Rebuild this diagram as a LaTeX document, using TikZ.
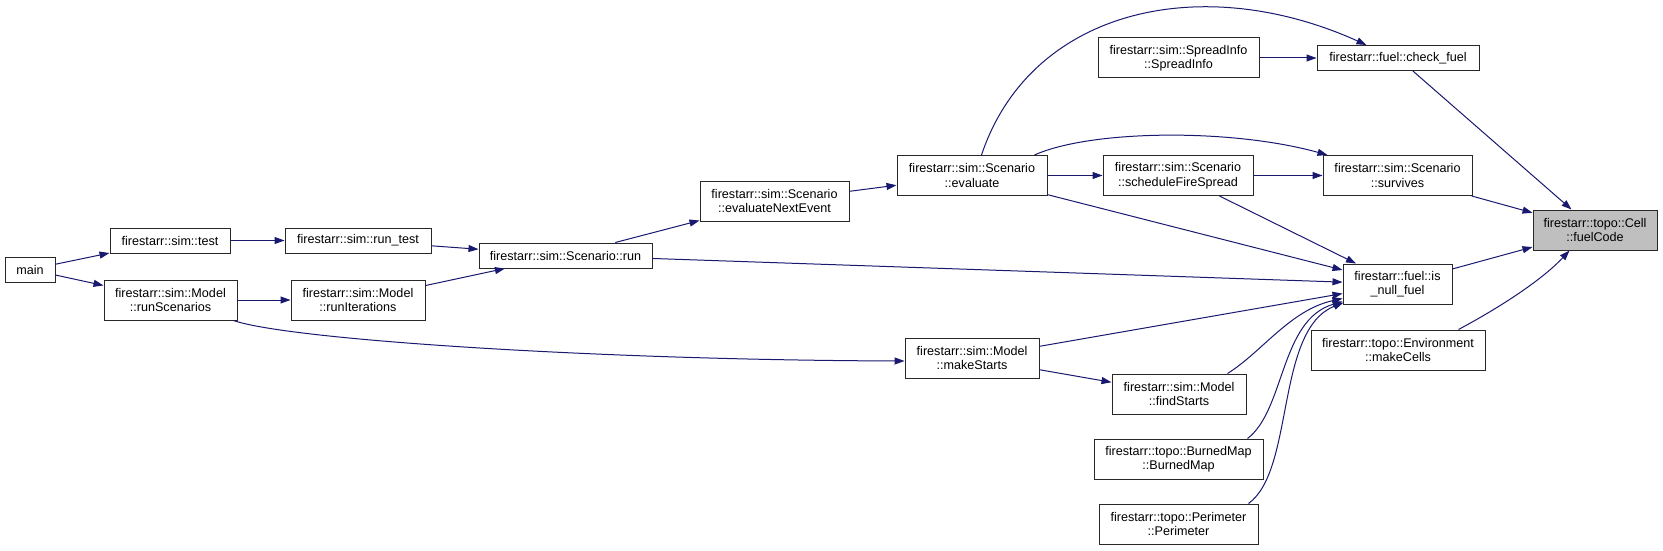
\documentclass[tikz,border=0pt]{standalone}
\usepackage{fontspec}
\setmainfont{Liberation Sans}
\usetikzlibrary{arrows.meta,calc}
\definecolor{edgeblue}{RGB}{25,25,112}
\definecolor{boxborder}{RGB}{40,40,40}
\definecolor{rootfill}{RGB}{191,191,191}
\begin{document}
\begin{tikzpicture}[x=1pt,y=-1pt,
  font=\fontsize{12.6}{14.5}\selectfont,
  box/.style={draw=boxborder, line width=1pt, fill=white, inner sep=0pt, align=center, minimum height=25pt},
  twoline/.style={minimum height=40pt},
  root/.style={fill=rootfill},
  edge/.style={draw=edgeblue, line width=1pt, -{Triangle[length=10pt,width=7pt]}}]
\fill[white] (0,0) rectangle (1663,551);
\useasboundingbox (0,0) rectangle (1663,551);

% nodes
\node[box, minimum width=50pt] (main) at (30,269.5) {main};
\node[box, minimum width=120pt] (test) at (170,240.5) {firestarr::sim::test};
\node[box, minimum width=146pt] (runtest) at (358,240.5) {firestarr::sim::run\_test};
\node[box, twoline, minimum width=133pt] (runScenarios) at (170.5,300) {firestarr::sim::Model\\::runScenarios};
\node[box, twoline, minimum width=134pt] (runIterations) at (358,300) {firestarr::sim::Model\\::runIterations};
\node[box, minimum width=173pt] (run) at (565.5,255.5) {firestarr::sim::Scenario::run};
\node[box, twoline, minimum width=149pt] (evalNext) at (774.5,201) {firestarr::sim::Scenario\\::evaluateNextEvent};
\node[box, twoline, minimum width=150pt] (evaluate) at (972,175.5) {firestarr::sim::Scenario\\::evaluate};
\node[box, twoline, minimum width=134pt] (makeStarts) at (972,358) {firestarr::sim::Model\\::makeStarts};
\node[box, twoline, minimum width=161pt] (spreadInfo) at (1178.5,58) {firestarr::sim::SpreadInfo\\::SpreadInfo};
\node[box, twoline, minimum width=150pt] (schedule) at (1178,175.5) {firestarr::sim::Scenario\\::scheduleFireSpread};
\node[box, twoline, minimum width=134pt] (findStarts) at (1179,394) {firestarr::sim::Model\\::findStarts};
\node[box, twoline, minimum width=169pt] (burnedMap) at (1178.5,459) {firestarr::topo::BurnedMap\\::BurnedMap};
\node[box, twoline, minimum width=159pt] (perimeter) at (1178.5,524) {firestarr::topo::Perimeter\\::Perimeter};
\node[box, minimum width=162pt] (checkfuel) at (1398,58) {firestarr::fuel::check\_fuel};
\node[box, twoline, minimum width=149pt] (survives) at (1397.5,175.5) {firestarr::sim::Scenario\\::survives};
\node[box, twoline, minimum width=109pt] (isnull) at (1397.5,284) {firestarr::fuel::is\\\_null\_fuel};
\node[box, twoline, minimum width=174pt] (makeCells) at (1398,350) {firestarr::topo::Environment\\::makeCells};
\node[box, twoline, root, minimum width=124pt] (fuelCode) at (1595,230) {firestarr::topo::Cell\\::fuelCode};

% edges
\draw[edge] (main) -- (test);
\draw[edge] (main) -- (runScenarios);
\draw[edge] (test) -- (runtest);
\draw[edge] (runtest) -- (run);
\draw[edge] (runScenarios) -- (runIterations);
\draw[edge] ($(runScenarios.south east)+(-4,0)$) .. controls (290,340) and (600,360) .. ($(makeStarts.west)+(0,3)$);
\draw[edge] (runIterations) -- (run);
\draw[edge] (run) -- (evalNext);
\draw[edge] (run) -- (isnull);
\draw[edge] (evalNext) -- (evaluate);
\draw[edge] ($(evaluate.north west)+(85,0)$) .. controls (1030,10) and (1200,-30) .. ($(checkfuel.north west)+(50,0)$);
\draw[edge] ($(evaluate.north west)+(138,0)$) .. controls (1090,130) and (1230,128) .. ($(survives.north west)+(5,0)$);
\draw[edge] (evaluate) -- (schedule);
\draw[edge] (evaluate) -- (isnull);
\draw[edge] (schedule) -- (survives);
\draw[edge] (schedule) -- (isnull);
\draw[edge] (spreadInfo) -- (checkfuel);
\draw[edge] (makeStarts) -- (isnull);
\draw[edge] (makeStarts) -- (findStarts);
\draw[edge] ($(findStarts.north east)+(-19,0)$) .. controls (1262,352) and (1290,310) .. ($(isnull.south west)+(0,-6)$);
\draw[edge] ($(burnedMap.north east)+(-16,0)$) .. controls (1285,410) and (1280,320) .. ($(isnull.south west)+(0,-3)$);
\draw[edge] ($(perimeter.north east)+(-10,0)$) .. controls (1295,470) and (1275,330) .. ($(isnull.south west)+(1,-2)$);
\draw[edge] (checkfuel) -- (fuelCode);
\draw[edge] (survives) -- (fuelCode);
\draw[edge] (isnull) -- (fuelCode);
\draw[edge] ($(makeCells.north east)+(-27,0)$) .. controls (1495,310) and (1540,282) .. ($(fuelCode.south west)+(37,0)$);
\end{tikzpicture}
\end{document}
